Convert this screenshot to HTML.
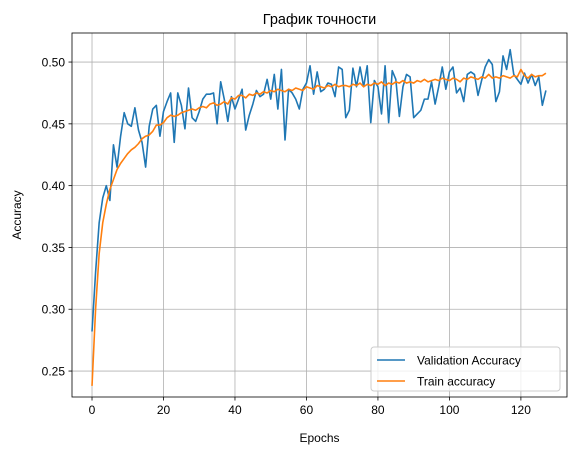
<!DOCTYPE html>
<html><head><meta charset="utf-8"><style>
body{margin:0;background:#fff;width:575px;height:455px;overflow:hidden}
svg text{font-family:"Liberation Sans","DejaVu Sans",sans-serif;fill:#000}
</style></head><body>
<svg id="chart" width="575" height="455" xmlns="http://www.w3.org/2000/svg"></svg>
<script>
const epochs = Array.from({length:128},(_, i)=>i);
const valAcc = [0.282,0.33,0.37,0.39,0.40,0.388,0.433,0.415,0.44,0.459,0.45,0.448,0.463,0.445,0.435,0.415,0.448,0.462,0.465,0.44,0.46,0.468,0.475,0.435,0.475,0.465,0.446,0.479,0.455,0.452,0.46,0.47,0.474,0.474,0.475,0.45,0.484,0.47,0.452,0.472,0.462,0.47,0.478,0.445,0.457,0.466,0.477,0.472,0.474,0.486,0.47,0.49,0.462,0.494,0.437,0.478,0.475,0.47,0.462,0.478,0.483,0.497,0.474,0.492,0.476,0.478,0.483,0.482,0.472,0.496,0.494,0.455,0.461,0.495,0.48,0.496,0.48,0.497,0.451,0.485,0.48,0.458,0.497,0.451,0.493,0.486,0.456,0.48,0.49,0.488,0.455,0.458,0.461,0.47,0.47,0.484,0.466,0.48,0.496,0.478,0.492,0.496,0.475,0.479,0.468,0.49,0.492,0.49,0.473,0.485,0.496,0.502,0.498,0.468,0.476,0.505,0.494,0.51,0.49,0.486,0.482,0.491,0.483,0.49,0.481,0.488,0.465,0.477];
const trainAcc = [0.238,0.3,0.345,0.37,0.385,0.397,0.405,0.413,0.418,0.422,0.426,0.429,0.431,0.434,0.438,0.44,0.441,0.444,0.449,0.449,0.451,0.455,0.457,0.456,0.457,0.459,0.46,0.461,0.462,0.461,0.463,0.464,0.463,0.466,0.467,0.465,0.466,0.468,0.466,0.471,0.47,0.473,0.473,0.471,0.474,0.473,0.475,0.474,0.476,0.475,0.477,0.476,0.478,0.477,0.476,0.478,0.477,0.479,0.478,0.477,0.48,0.479,0.478,0.481,0.48,0.479,0.481,0.48,0.482,0.48,0.481,0.481,0.48,0.482,0.481,0.483,0.48,0.482,0.481,0.483,0.482,0.484,0.481,0.483,0.482,0.484,0.483,0.485,0.483,0.484,0.483,0.485,0.484,0.486,0.484,0.485,0.486,0.485,0.487,0.486,0.485,0.487,0.486,0.484,0.487,0.486,0.488,0.487,0.486,0.488,0.487,0.49,0.487,0.488,0.487,0.489,0.488,0.487,0.489,0.488,0.494,0.489,0.487,0.49,0.488,0.489,0.489,0.491];
const xTicks = [0,20,40,60,80,100,120];
const yTicks = [0.25,0.30,0.35,0.40,0.45,0.50];

const L=72,R=567,T=33,B=397;
const xMin=-5.6,xMax=132.9,yMin=0.229,yMax=0.5235;
const xs=v=>L+(v-xMin)/(xMax-xMin)*(R-L);
const ys=v=>B-(v-yMin)/(yMax-yMin)*(B-T);
const svg=document.getElementById('chart');
const NS='http://www.w3.org/2000/svg';
function mk(tag,attrs,parent){const e=document.createElementNS(NS,tag);for(const k in attrs)e.setAttribute(k,attrs[k]);(parent||svg).appendChild(e);return e;}

const grid=mk('g',{});


xTicks.forEach(t=>{
  mk('line',{x1:xs(t),x2:xs(t),y1:T,y2:B,stroke:'#b0b0b0','stroke-width':0.8},grid);
  mk('line',{x1:xs(t),x2:xs(t),y1:B,y2:B+3.5,stroke:'#000','stroke-width':0.8});
  const tx=mk('text',{x:xs(t),y:B+17,'text-anchor':'middle','font-size':12});
  tx.textContent=t;
  
  
});
yTicks.forEach(t=>{
  mk('line',{x1:L,x2:R,y1:ys(t),y2:ys(t),stroke:'#b0b0b0','stroke-width':0.8},grid);
  mk('line',{x1:L-3.5,x2:L,y1:ys(t),y2:ys(t),stroke:'#000','stroke-width':0.8});
  const tx=mk('text',{x:L-7,y:ys(t)+4.5,'text-anchor':'end','font-size':12});
  tx.textContent=t.toFixed(2);
  
  
});
function line(data,color,name){
  const p=mk('polyline',{points:data.map((v,i)=>xs(epochs[i])+','+ys(v)).join(' '),fill:'none',stroke:color,'stroke-width':1.6,'stroke-linejoin':'round'});
  
  
}
line(valAcc,'#1f77b4','validation-line');
line(trainAcc,'#ff7f0e','train-line');
const fr=mk('rect',{x:L,y:T,width:R-L,height:B-T,fill:'none',stroke:'#000','stroke-width':0.8});


const title=mk('text',{x:(L+R)/2,y:T-9,'text-anchor':'middle','font-size':14.5});
title.textContent='График точности';


const xl=mk('text',{x:(L+R)/2,y:442,'text-anchor':'middle','font-size':12});
xl.textContent='Epochs';


const yl=mk('text',{x:0,y:0,'text-anchor':'middle','font-size':12,transform:`translate(21,${(T+B)/2}) rotate(-90)`});
yl.textContent='Accuracy';


const lg=mk('g',{});


mk('rect',{x:371,y:347,width:189,height:44,rx:3,fill:'#fff','fill-opacity':0.8,stroke:'#ccc','stroke-width':1},lg);
[['Validation Accuracy','#1f77b4',360],['Train accuracy','#ff7f0e',381]].forEach(([t,c,y])=>{
  const g=mk('g',{},lg);
  
  
  mk('line',{x1:377,x2:405,y1:y,y2:y,stroke:c,'stroke-width':1.6},g);
  const tx=mk('text',{x:417,y:y+4.5,'font-size':12},g);
  tx.textContent=t;
});
</script>
</body></html>
